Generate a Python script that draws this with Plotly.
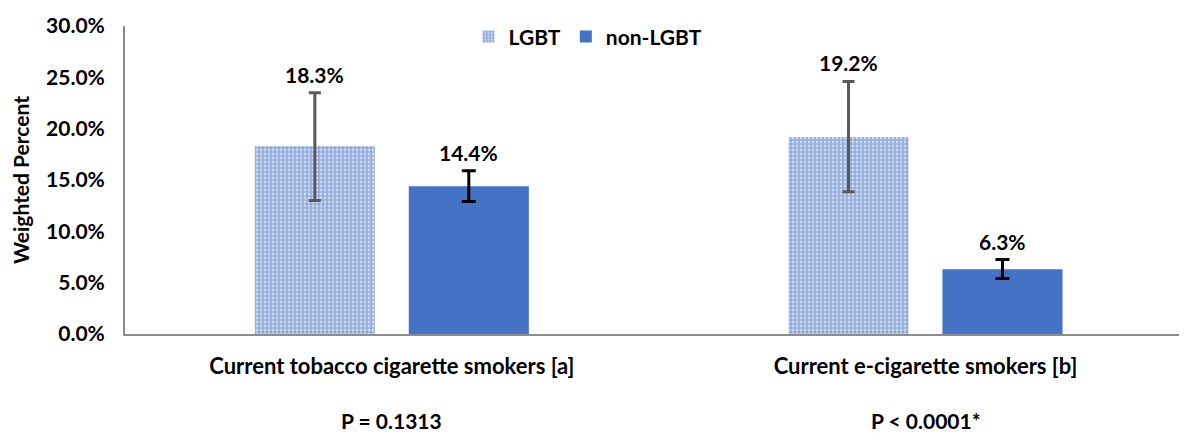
import plotly.graph_objects as go

categories = ["Current tobacco cigarette smokers [a]", "Current e-cigarette smokers [b]"]
p_values = ["P = 0.1313", "P < 0.0001*"]
lgbt = [18.3, 19.2]
lgbt_err_plus = [5.2, 5.4]
lgbt_err_minus = [5.3, 5.35]
non_lgbt = [14.4, 6.3]
non_err_plus = [1.5, 0.95]
non_err_minus = [1.5, 0.9]
y_ticks = [0, 5, 10, 15, 20, 25, 30]

BLUE = "#4472C4"
FONT = "Lato"
FS = 21
x_idx = [0, 1]

fig = go.Figure()
fig.add_trace(go.Bar(
    name="LGBT", x=x_idx, y=lgbt,
    marker=dict(color="white", line=dict(width=0),
                pattern=dict(shape=".", fgcolor="#3d6bc0", bgcolor="#e4eaf6", size=4, solidity=0.7, fillmode="overlay")),
    error_y=dict(type="data", symmetric=False, array=lgbt_err_plus, arrayminus=lgbt_err_minus,
                 color="#595959", thickness=3, width=6),
))
fig.add_trace(go.Bar(
    name="non-LGBT", x=x_idx, y=non_lgbt,
    marker=dict(color=BLUE, line=dict(width=0)),
    error_y=dict(type="data", symmetric=False, array=non_err_plus, arrayminus=non_err_minus,
                 color="black", thickness=3, width=7),
))

label_font = dict(family=FONT, size=FS, color="black", weight="bold")
cat_font = dict(family=FONT, size=22, color="black", weight="bold")
off = 0.144
annotations = []
for i in range(2):
    annotations.append(dict(x=i - off, y=lgbt[i] + lgbt_err_plus[i], text=f"{lgbt[i]:.1f}%",
                            showarrow=False, yanchor="bottom", yshift=4, font=label_font))
    annotations.append(dict(x=i + off, y=non_lgbt[i] + non_err_plus[i], text=f"{non_lgbt[i]:.1f}%",
                            showarrow=False, yanchor="bottom", yshift=4, font=label_font))
    annotations.append(dict(x=i, y=0, xref="x", yref="paper", yshift=-86, text=p_values[i],
                            showarrow=False, yanchor="middle", font=label_font))

fig.update_layout(
    width=1187, height=433,
    margin=dict(l=117, r=8, t=14, b=107),
    paper_bgcolor="white", plot_bgcolor="white",
    barmode="group", bargap=0.423, bargroupgap=0.22,
    font=label_font,
    legend=dict(orientation="h", x=0.436, xanchor="center", xref="paper", y=0.965, yanchor="middle",
                font=label_font, itemwidth=30, traceorder="normal", bgcolor="rgba(0,0,0,0)"),
    xaxis=dict(range=[-0.5, 1.49], tickvals=x_idx, ticktext=categories, showline=True,
               linecolor="#8c8c8c", linewidth=2, ticks="", showgrid=False, zeroline=False,
               ticklabelstandoff=12, automargin=False, tickfont=cat_font),
    yaxis=dict(range=[0, 30], tickvals=y_ticks, ticktext=[f"{v:.1f}%" for v in y_ticks],
               showline=True, linecolor="#8c8c8c", linewidth=2, ticks="", showgrid=False,
               zeroline=False, ticklabelstandoff=14, automargin=False,
               title=dict(text="Weighted Percent", standoff=12, font=label_font),
               tickfont=label_font),
    annotations=annotations,
    showlegend=True,
)

fig.write_html("out.html")
